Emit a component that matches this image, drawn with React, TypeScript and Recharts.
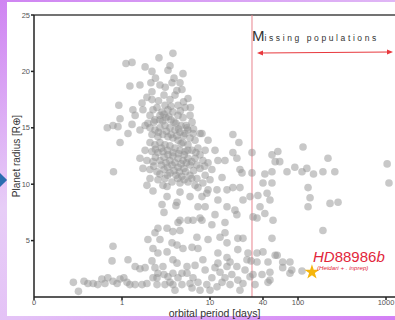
import { ScatterChart, Scatter, XAxis, YAxis, ReferenceLine, Label, Symbols } from "recharts";

// [orbital period (days), radius (R_earth)]
const hotGiants: [number, number][] = [
  [1.11, 20.7], [1.3, 20.8], [2.63, 21.2], [3.79, 21.6], [3.51, 20.5], [3.33, 20.1], [1.83, 20.4], [2.19, 20.0],
  [4.93, 19.8], [1.23, 18.7], [1.6, 18.8], [2.13, 19.0], [2.19, 18.2], [1.92, 17.7], [2.7, 18.8], [3.7, 19.0],
  [4.56, 19.0], [4.8, 18.4], [5.62, 17.6], [0.92, 17.0], [1.69, 17.2], [2.19, 17.5], [1.33, 16.6], [1.73, 16.6],
  [2.25, 16.6], [1.41, 16.1], [2.7, 16.1], [0.68, 15.0], [0.79, 15.2], [0.95, 15.8], [0.9, 15.1], [1.3, 15.3],
  [1.83, 15.2], [2.37, 15.7], [1.17, 14.5], [0.95, 13.7], [1.6, 14.8], [1.97, 15.4], [6.41, 14.5], [7.7, 14.5],
  [3.08, 17.0], [3.51, 17.5], [4.0, 17.9], [4.33, 17.0], [5.2, 16.8], [5.93, 16.1], [6.25, 15.5], [5.48, 15.0],
];

const giantCore: [number, number][] = [
  [2.08, 16.1], [2.5, 16.8], [2.85, 16.4], [3.33, 16.6], [3.79, 16.4], [4.33, 16.1], [4.93, 15.9], [2.7, 15.7],
  [3.16, 15.9], [3.6, 15.7], [4.1, 15.4], [4.68, 15.2], [5.34, 15.2], [2.08, 15.0], [2.37, 14.8], [2.7, 15.0],
  [3.08, 15.2], [3.51, 15.0], [4.0, 14.8], [4.56, 14.6], [5.2, 14.5], [5.93, 14.1], [2.19, 14.4], [2.56, 14.2],
  [2.92, 14.4], [3.33, 14.2], [3.79, 14.1], [4.33, 13.9], [4.93, 13.7], [5.62, 13.5], [6.76, 13.9], [2.08, 13.7],
  [2.37, 13.5], [2.7, 13.7], [3.08, 13.5], [3.51, 13.4], [4.0, 13.2], [4.56, 13.0], [5.2, 12.9], [6.25, 13.0],
  [7.3, 13.2], [1.83, 13.0], [2.19, 12.9], [2.56, 12.8], [2.92, 12.9], [3.33, 12.6], [3.79, 12.5], [4.33, 12.3],
  [4.93, 12.1], [5.62, 12.3], [6.76, 12.3], [7.7, 12.6], [8.8, 13.0], [1.6, 12.3], [1.92, 12.1], [2.25, 12.0],
  [2.7, 12.1], [3.16, 11.9], [3.7, 11.7], [4.33, 11.5], [5.06, 11.4], [5.93, 11.7], [7.1, 11.7], [8.3, 12.1],
  [9.5, 11.9], [1.73, 11.4], [2.08, 11.3], [2.5, 11.1], [3.0, 11.3], [3.51, 11.0], [4.1, 10.8], [4.8, 10.7],
  [5.93, 10.8], [7.1, 10.5], [8.8, 10.8], [10.5, 11.3], [2.08, 10.5], [2.56, 10.4], [3.08, 10.5], [3.7, 10.2],
  [4.56, 10.1], [5.62, 10.2], [6.76, 9.9], [8.3, 10.1], [10.0, 10.4],
  [2.3, 15.5], [2.9, 15.6], [3.4, 16.0], [3.9, 15.5], [4.4, 14.9], [5.0, 14.3], [2.6, 14.6], [3.2, 14.7],
  [3.6, 14.4], [4.2, 14.3], [4.7, 13.6], [2.4, 13.1], [2.8, 13.2], [3.3, 13.0], [3.8, 12.8], [4.4, 12.7],
  [5.1, 12.6], [5.6, 13.0], [2.4, 12.4], [3.0, 12.4], [3.5, 12.1], [4.0, 11.9], [4.7, 11.8], [5.4, 11.9],
  [6.2, 12.0], [2.3, 11.6], [2.8, 11.7], [3.3, 11.5], [3.9, 11.2], [4.5, 11.1], [5.3, 11.1], [6.5, 11.2],
  [2.7, 10.9], [3.3, 10.8], [4.3, 10.5], [5.1, 10.4], [6.2, 10.5], [3.0, 16.2], [3.6, 16.9], [4.6, 16.5],
  [2.6, 17.4], [3.0, 17.9], [4.2, 18.3], [5.0, 17.3], [6.0, 16.8], [5.6, 14.8], [6.5, 14.9], [6.9, 12.8],
  [7.7, 11.4], [8.7, 11.6], [3.9, 19.4], [2.4, 19.4], [3.1, 18.6],
];

const warmPlanets: [number, number][] = [
  [18.2, 14.4], [21.3, 13.7], [30, 12.8], [14.8, 12.1], [18.2, 12.8], [20.2, 12.3], [21.9, 11.3], [23.1, 11.0],
  [30, 11.0], [8.1, 14.5], [9.5, 13.9], [11.4, 13.0], [12.3, 12.1], [13.7, 10.6], [12.0, 9.5], [9.5, 9.5],
  [8.1, 8.9], [7.3, 8.0], [8.8, 8.0], [11.4, 7.3], [15.6, 8.0], [19.2, 7.7], [20.2, 7.3], [15.6, 9.5],
  [12.3, 8.6], [18.2, 9.7], [21.9, 9.7], [23.7, 8.6], [28.5, 8.9], [35, 9.0], [37, 8.0], [42, 7.4],
  [52, 6.8], [30.8, 7.1], [40, 10.1], [50.6, 10.1], [48, 8.6], [44.5, 9.2], [34.2, 7.0],
];

const longPeriod: [number, number][] = [
  [50.6, 12.6], [59, 12.9], [55, 12.0], [62, 12.0], [42, 10.9], [50.6, 11.1], [75, 11.1], [92, 11.5],
  [114, 13.3], [111, 11.1], [126, 11.4], [150, 10.9], [192, 11.1], [262, 11.1], [219, 12.3], [130, 9.7],
  [137, 8.8], [130, 8.0], [231, 8.3], [285, 8.4], [192, 5.9], [1030, 11.8], [1080, 10.1], [50.6, 5.2],
  [55, 3.7], [67, 2.6], [81, 3.1], [81, 2.1], [111, 2.3], [48, 1.5], [67, 3.1], [85, 2.4], [58, 3.7],
];

const midRadius: [number, number][] = [
  [0.8, 11.1], [1.92, 9.9], [2.25, 9.4], [3.25, 9.8], [2.85, 8.2], [3.0, 7.5], [4.1, 8.1], [4.56, 9.3],
  [5.93, 8.9], [4.56, 6.8], [5.62, 6.8], [2.92, 9.9], [3.25, 8.9], [4.22, 8.4], [7.3, 9.7], [9.2, 9.2],
  [7.7, 7.0], [6.41, 6.8], [1.97, 5.1], [2.37, 5.7], [2.7, 5.1], [3.25, 6.1], [3.79, 5.8], [3.7, 4.8],
  [4.56, 5.9], [4.93, 4.3], [6.25, 4.4], [7.1, 5.3], [0.79, 4.5], [2.56, 6.1], [4.33, 6.6], [8.1, 6.8],
  [10.5, 6.4], [14.8, 6.6], [4.22, 4.6], [3.25, 4.0], [2.25, 4.3], [7.3, 4.3], [9.5, 5.1], [13, 5.3],
  [15.6, 4.8], [14.8, 5.7], [20.7, 5.2], [23.7, 5.2], [20.7, 4.2], [27, 3.9], [34.2, 3.9], [40, 4.0],
  [12.3, 3.9], [15.6, 3.5],
];

const smallPlanets: [number, number][] = [
  [0.28, 1.3], [0.32, 0.5], [0.37, 1.4], [0.41, 1.2], [0.47, 1.2], [0.53, 1.1], [0.59, 1.6], [0.64, 1.2],
  [0.69, 1.7], [0.79, 1.4], [0.88, 1.2], [0.95, 1.6], [1.05, 1.7], [1.14, 1.3], [1.23, 1.1], [1.41, 1.1],
  [1.69, 1.1], [1.92, 1.2], [0.77, 3.2], [1.17, 3.3], [1.41, 2.7], [1.6, 2.5], [1.83, 2.6], [2.19, 3.2],
  [2.56, 3.9], [3.79, 3.3], [2.25, 1.7], [2.56, 2.1], [3.0, 2.0], [3.33, 1.8], [3.79, 2.1], [4.33, 1.7],
  [2.5, 1.1], [3.08, 1.1], [3.79, 1.1], [4.8, 1.1], [6.25, 0.8], [5.48, 2.1], [6.41, 1.7], [26.3, 3.3],
  [29.3, 3.2], [34.2, 3.1], [45.6, 3.1], [48, 2.2], [45.6, 1.3], [28.5, 1.8], [23.7, 1.2], [20.7, 1.5],
  [13.7, 1.3], [16.9, 1.1], [4.0, 0.6], [5.93, 1.2], [9.2, 1.1], [12.0, 0.9], [3.51, 1.3], [2.5, 1.7],
  [4.8, 2.1], [8.8, 2.4], [11.4, 2.6], [15.6, 2.7], [20.2, 2.7], [14.8, 1.7], [12.3, 3.0], [16.9, 3.1],
  [8.3, 3.3], [5.48, 2.7], [4.22, 3.0], [2.92, 2.7], [2.37, 2.6], [7.3, 1.3], [10.5, 1.7], [7.7, 0.6],
  [17.7, 2.0], [25, 2.4], [10.0, 0.6], [13, 2.2], [6.76, 2.8], [21.9, 0.6], [32.5, 1.1], [39, 2.0],
  [30.8, 2.0],
];

const hd88986b: [number, number][] = [[144, 2.2]];

const xTicks = [0.1, 1, 10, 40, 100, 1000];
const xTickLabels = ["0", "1", "10", "40", "100", "1000"];
const yTicks = [5, 10, 15, 20, 25];

const toPoints = (arr: [number, number][]) => arr.map(([period, radius]) => ({ period, radius }));
const population = toPoints([...hotGiants, ...giantCore, ...warmPlanets, ...longPeriod, ...midRadius, ...smallPlanets]);
const target = toPoints(hd88986b);

const dot = (p: any) => <circle cx={p.cx} cy={p.cy} r={3.8} fill="#929292" fillOpacity={0.5} />;
const star = (p: any) => <Symbols cx={p.cx} cy={p.cy} type="star" size={70} fill="#f5b50c" />;

const font = "'Liberation Sans', 'DejaVu Sans', sans-serif";

export default function App() {
  return (
    <div
      style={{
        position: "absolute",
        left: 0,
        top: 0,
        width: 395,
        height: 320,
        overflow: "hidden",
        background: "linear-gradient(160deg, #cf84f2 0%, #e7cdf7 45%, #e4c2f6 70%, #d37ef5 100%)",
        fontFamily: font,
      }}
    >
      <div style={{ position: "absolute", left: 7, top: 2, width: 400, height: 314, background: "#fff" }} />
      <div
        style={{
          position: "absolute",
          left: -5,
          top: 175,
          width: 10,
          height: 10,
          background: "#2a6db0",
          transform: "rotate(45deg)",
        }}
      />
      <div style={{ position: "absolute", left: 0, top: 0 }}>
        <ScatterChart width={395} height={320} margin={{ top: 15, right: 0, bottom: 0, left: 0 }}>
          <XAxis
            type="number"
            dataKey="period"
            scale="log"
            domain={[0.1, 1265]}
            allowDataOverflow
            ticks={xTicks}
            tickFormatter={(v: number) => xTickLabels[xTicks.indexOf(v)] ?? ""}
            height={23}
            tickSize={3}
            tickMargin={0}
            stroke="#222"
            strokeWidth={1.5}
            tick={{ fontSize: 7.5, fill: "#555", fontFamily: font }}
          >
            <Label
              value="orbital period [days]"
              position="insideBottom"
              offset={3}
              style={{ fontSize: 10.5, fill: "#333", fontFamily: font }}
            />
          </XAxis>
          <YAxis
            type="number"
            dataKey="radius"
            domain={[0, 25]}
            ticks={yTicks}
            width={34}
            tickSize={3}
            tickMargin={1}
            stroke="#222"
            strokeWidth={1.5}
            tick={{ fontSize: 7.5, fill: "#555", fontFamily: font }}
          >
            <Label
              value="Planet radius [R⊕]"
              angle={-90}
              position="insideLeft"
              offset={16}
              textAnchor="middle"
              style={{ fontSize: 10, fill: "#333", fontFamily: font, textAnchor: "middle" }}
            />
          </YAxis>
          <ReferenceLine y={25} stroke="#444" strokeWidth={1.5} />
          <ReferenceLine x={30} stroke="#e8848e" strokeWidth={1} />
          <Scatter data={population} shape={dot} isAnimationActive={false} />
          <Scatter data={target} shape={star} isAnimationActive={false} />
        </ScatterChart>
      </div>
      <svg width={395} height={320} style={{ position: "absolute", left: 0, top: 0, pointerEvents: "none" }}>
        <text x={252} y={41} fill="#333" fontFamily={font}>
          <tspan fontSize={15} fontWeight={300}>M</tspan>
          <tspan fontSize={8.5} letterSpacing={2.6}>issing populations</tspan>
        </text>
        <line x1={260} y1={53} x2={390} y2={52} stroke="#e8383d" strokeWidth={1} />
        <polygon points="257,53 263,50.5 263,55.5" fill="#e8383d" />
        <polygon points="393,52 387,49.5 387,54.5" fill="#e8383d" />
        <text x={313} y={262} fill="#e2263b" fontSize={15} fontFamily={font}>
          <tspan fontStyle="italic">HD</tspan>
          <tspan>88986</tspan>
          <tspan fontStyle="italic">b</tspan>
        </text>
        <text x={317} y={270} fill="#e2263b" fontSize={6.2} fontStyle="italic" fontFamily={font}>
          (Heidari + . inprep)
        </text>
      </svg>
    </div>
  );
}
